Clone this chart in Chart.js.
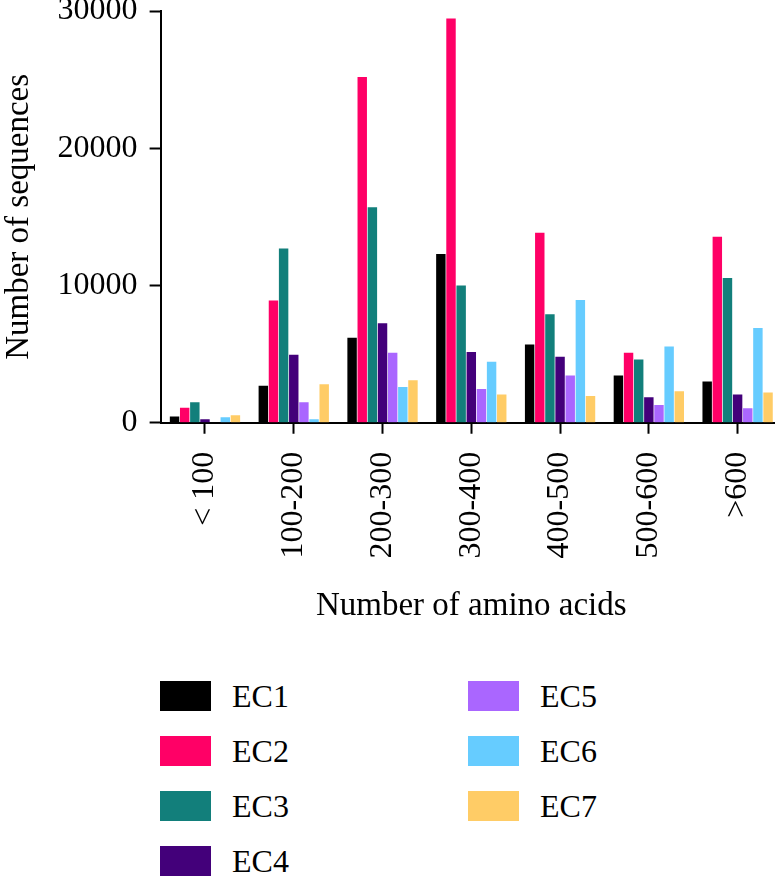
<!DOCTYPE html>
<html>
<head>
<meta charset="utf-8">
<script src="https://cdn.jsdelivr.net/npm/chart.js@4"></script>
<style>
    body { margin: 0; background: #fff; }
    #wrap { position: relative; width: 775px; height: 877px; overflow: hidden; }
    #box { position: absolute; left: 0; top: 0; width: 782px; height: 636px; }
    #legend {
        position: absolute; left: 160px; top: 681px;
        display: grid; grid-template-columns: 308px 200px;
        grid-template-rows: repeat(4, 55px); grid-auto-flow: column;
        font-family: "Liberation Serif", serif; font-size: 32px; color: #000;
    }
    .item { display: flex; align-items: flex-start; height: 55px; }
    .swatch { width: 51px; height: 30px; margin-right: 21px; }
    .item span { line-height: 30px; }
</style>
</head>
<body>
<div id="wrap">
    <div id="box"><canvas id="chart"></canvas></div>
    <div id="legend"></div>
</div>
<script>
const categories = ['< 100', '100-200', '200-300', '300-400', '400-500', '500-600', '>600'];
const seriesNames = ['EC1', 'EC2', 'EC3', 'EC4', 'EC5', 'EC6', 'EC7'];
const seriesColors = ['#000000', '#ff0066', '#127f7b', '#43007a', '#aa66ff', '#66ccff', '#ffcc66'];

const ec1 = [450, 2700, 6200, 12300, 5700, 3450, 3000];
const ec2 = [1100, 8900, 25200, 29450, 13850, 5100, 13550];
const ec3 = [1500, 12700, 15700, 10000, 7900, 4600, 10550];
const ec4 = [250, 4950, 7250, 5150, 4800, 1850, 2050];
const ec5 = [0, 1500, 5100, 2450, 3450, 1300, 1050];
const ec6 = [400, 250, 2600, 4450, 8950, 5550, 6900];
const ec7 = [550, 2800, 3100, 2050, 1950, 2300, 2200];

const yTicks = [0, 10000, 20000, 30000];

const values = [ec1, ec2, ec3, ec4, ec5, ec6, ec7];
const serif = '"Liberation Serif", serif';

const ctx = document.getElementById('chart').getContext('2d');
const chart = new Chart(ctx, {
    type: 'bar',
    data: {
        labels: categories,
        datasets: seriesNames.map((name, i) => ({
            label: name,
            data: values[i],
            backgroundColor: seriesColors[i],
            borderWidth: 0,
            categoryPercentage: 0.8,
            barPercentage: 0.93,
        })),
    },
    options: {
        responsive: true,
        maintainAspectRatio: false,
        animation: false,
        layout: { padding: { top: 11, right: 0, left: 0, bottom: 0 } },
        plugins: { legend: { display: false }, tooltip: { enabled: false } },
        scales: {
            x: {
                afterFit: scale => { scale.paddingRight = 0; scale.paddingLeft = 0; },
                grid: { display: true, drawOnChartArea: false, offset: false, tickLength: 11, tickWidth: 2, tickColor: '#000' },
                border: { color: '#000', width: 2 },
                ticks: { color: '#000', font: { family: serif, size: 32 }, maxRotation: 90, minRotation: 90, padding: 18 },
                title: { display: true, text: 'Number of amino acids', color: '#000', font: { family: serif, size: 33 }, padding: { top: 10, bottom: 10 } },
            },
            y: {
                min: 0,
                max: 30000,
                afterBuildTicks: scale => { scale.ticks = yTicks.map(v => ({ value: v })); },
                afterFit: scale => { scale.paddingTop = 0; },
                grid: { display: true, drawOnChartArea: false, tickLength: 11, tickWidth: 2, tickColor: '#000' },
                border: { color: '#000', width: 2 },
                ticks: { color: '#000', font: { family: serif, size: 32 }, padding: 12, callback: v => String(v) },
                title: { display: true, text: 'Number of sequences', color: '#000', font: { family: serif, size: 33 }, padding: { top: 0, bottom: 6 } },
            },
        },
    },
});

// html legend, two columns
const legend = document.getElementById('legend');
chart.data.datasets.forEach(ds => {
    const item = document.createElement('div');
    item.className = 'item';
    const sw = document.createElement('div');
    sw.className = 'swatch';
    sw.style.background = ds.backgroundColor;
    const txt = document.createElement('span');
    txt.textContent = ds.label;
    item.appendChild(sw);
    item.appendChild(txt);
    legend.appendChild(item);
});
</script>
</body>
</html>
